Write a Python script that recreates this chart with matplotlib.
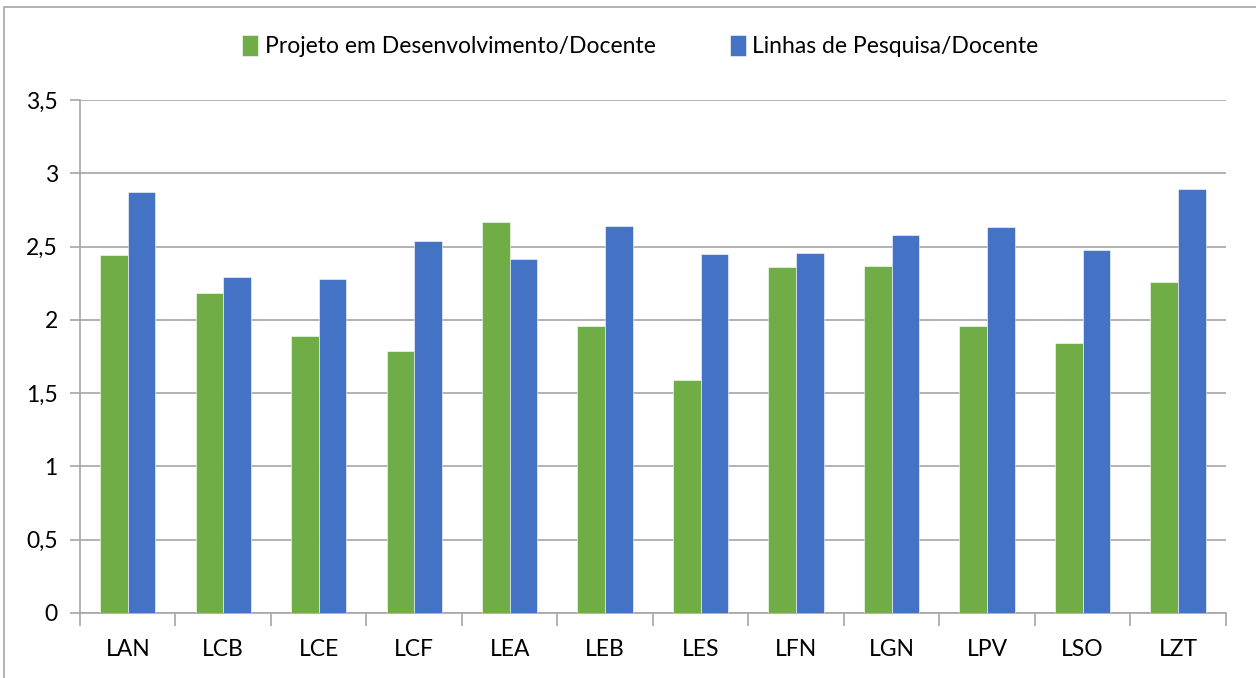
import numpy as np
import matplotlib
matplotlib.use("Agg")
import matplotlib.pyplot as plt
from matplotlib.ticker import FuncFormatter, FixedLocator
from matplotlib.patches import Rectangle

# data
cursos = ["LAN", "LCB", "LCE", "LCF", "LEA", "LEB", "LES", "LFN", "LGN", "LPV", "LSO", "LZT"]
projetos = [2.44, 2.18, 1.89, 1.79, 2.67, 1.96, 1.59, 2.36, 2.37, 1.955, 1.84, 2.26]
linhas = [2.875, 2.29, 2.28, 2.54, 2.415, 2.64, 2.45, 2.455, 2.58, 2.635, 2.475, 2.895]

plt.rcParams['font.family'] = ['Lato', 'DejaVu Sans']

fig = plt.figure(figsize=[12.56, 6.78], dpi=100)
ax = fig.add_axes([0.0637, 0.0959, 0.9123, 0.7566])

x = np.arange(len(cursos))
w = 0.29
ax.bar(x - w/2, projetos, w, color='#70AD47', edgecolor='white', lw=0.4,
       label='Projeto em Desenvolvimento/Docente', zorder=3)
ax.bar(x + w/2, linhas, w, color='#4472C4', edgecolor='white', lw=0.4,
       label='Linhas de Pesquisa/Docente', zorder=3)

ax.set_xlim(-0.5, len(cursos) - 0.5)
ax.set_ylim(0, 3.5)
ax.set_yticks(np.arange(0, 3.51, 0.5))
ax.yaxis.set_major_formatter(FuncFormatter(lambda v, p: ('%g' % v).replace('.', ',')))
ax.yaxis.grid(True, color='#a6a6a6', lw=1.2, zorder=0)

# category labels centred, ticks on the boundaries
ax.set_xticks(x)
ax.set_xticklabels(cursos)
ax.tick_params(axis='x', which='major', length=0, pad=19, labelsize=16.5)
ax.xaxis.set_minor_locator(FixedLocator(np.arange(-0.5, len(cursos), 1.0)))
ax.tick_params(axis='x', which='minor', length=9, color='#a6a6a6', width=1.2)
ax.tick_params(axis='y', length=7, color='#a6a6a6', width=1.2, pad=9, labelsize=16.5)

for s in ['top', 'right']:
    ax.spines[s].set_visible(False)
for s in ['left', 'bottom']:
    ax.spines[s].set_color('#a6a6a6')
    ax.spines[s].set_linewidth(1.2)

ax.legend(loc='center', bbox_to_anchor=(0.51, 0.932), bbox_transform=fig.transFigure,
          ncol=2, frameon=False, fontsize=16.5, handlelength=0.7, handleheight=1.0,
          handletextpad=0.3, columnspacing=3.2)

# outer chart border
fig.patches.append(Rectangle((0.003, -0.01), 1.2, 1.0, transform=fig.transFigure,
                             fill=False, edgecolor='#a6a6a6', lw=1.2))

fig.savefig('out.png', dpi=100)
